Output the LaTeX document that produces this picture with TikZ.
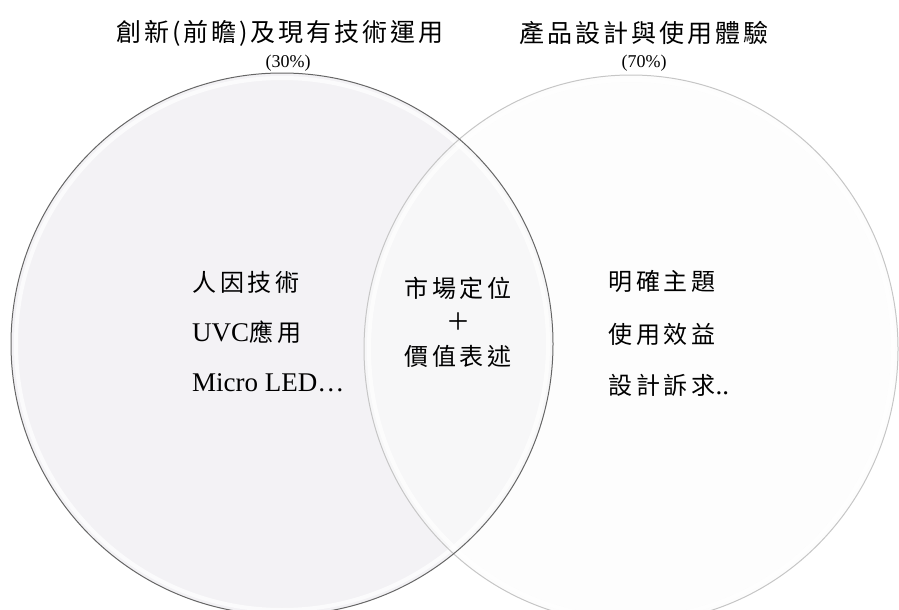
\documentclass[tikz,border=0pt]{standalone}
\usepackage{fontspec}
\setmainfont{Liberation Serif}
\newfontfamily\cjk[LetterSpace=16]{Noto Sans CJK TC}
\newfontfamily\cjkhead[LetterSpace=12]{Noto Sans CJK TC}
\usetikzlibrary{%
  calc%
}
\definecolor{lfill}{RGB}{243,242,245}
\definecolor{rfill}{RGB}{251,251,251}
\newcommand{\zhtext}[1]{{\fontsize{24}{30}\selectfont\cjk #1}}

\begin{document}
\begin{tikzpicture}[x=1pt,y=-1pt,
  head/.style={font=\fontsize{25}{30}\selectfont\cjkhead,inner sep=0pt},
  share/.style={font=\fontsize{18}{22}\selectfont,inner sep=0pt},
  item/.style={font=\fontsize{27}{32}\selectfont,inner sep=0pt,anchor=west},
  mid/.style={font=\fontsize{27}{32}\selectfont,inner sep=0pt},
  glass/.style={white,line width=4pt,opacity=.7}]
\useasboundingbox (0,0) rectangle (899,610);

% circles
\fill[lfill] (282,344) circle (271);
\fill[rfill,fill opacity=.6] (631,349) ellipse (267 and 274);
\draw[glass] (282,344) circle (266);
\draw[glass] (631,349) ellipse (262 and 269);
\draw[gray!45,line width=1pt] (631,349) ellipse (267 and 274);
\draw[gray!80!black,line width=1pt] (282,344) circle (271);

% titles
\node[head] (tl) at (280,33) {創新(前瞻)及現有技術運用};
\node[share] (tlp) at (288,63) {(30\%)};
\node[head] (tr) at (644,33) {產品設計與使用體驗};
\node[share] (trp) at (644,63) {(70\%)};

% left
\node[item] (l1) at (192,282) {\zhtext{人因技術}};
\node[item] (l2) at (192,332) {UVC\zhtext{應用}};
\node[item] (l3) at (192,383) {Micro LED…};

% middle
\node[mid] (m1) at (458,288) {\zhtext{市場定位}};
\node[mid] (m2) at (458,322) {\zhtext{＋}};
\node[mid] (m3) at (458,356) {\zhtext{價值表述}};

% right
\node[item] (r1) at (608,281) {\zhtext{明確主題}};
\node[item] (r2) at (608,334) {\zhtext{使用效益}};
\node[item] (r3) at (608,385) {\zhtext{設計訴求}..};
\end{tikzpicture}
\end{document}
